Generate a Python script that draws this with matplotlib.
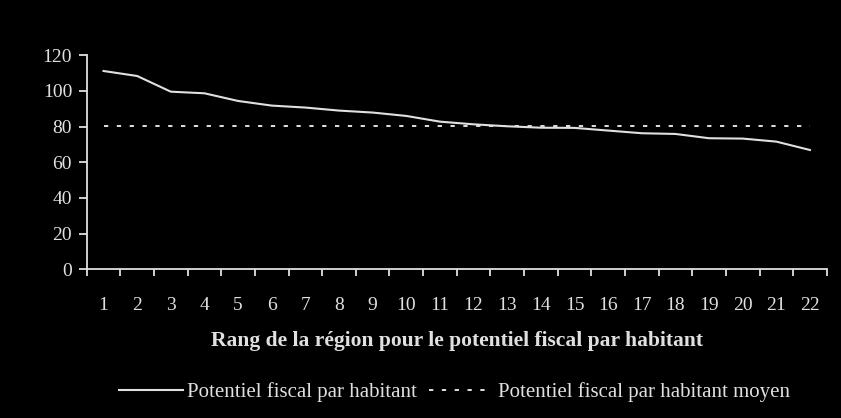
import matplotlib
matplotlib.use("Agg")
import matplotlib.pyplot as plt
from matplotlib.ticker import FixedLocator

# Regional tax potential per inhabitant, ranked
ranks = list(range(1, 23))
potentiel = [111.2, 108.4, 99.6, 98.7, 94.4, 91.8, 90.7, 89.0, 87.9, 86.0, 82.8,
             81.3, 80.2, 79.4, 79.3, 77.8, 76.3, 75.9, 73.5, 73.3, 71.6, 66.9]
moyenne = 80.2
y_ticks = [0, 20, 40, 60, 80, 100, 120]

label_serie = "Potentiel fiscal par habitant"
label_moyenne = "Potentiel fiscal par habitant moyen"
xlabel = "Rang de la région pour le potentiel fiscal par habitant"

fg = "#e0e0e0"
plt.rcParams["font.family"] = ["Liberation Serif", "DejaVu Serif"]

fig = plt.figure(figsize=(8.41, 4.18), dpi=100, facecolor="black")
ax = fig.add_axes([0.1031, 0.3557, 0.880, 0.512])
ax.set_facecolor("black")

ax.plot(ranks, potentiel, color=fg, lw=1.5, solid_joinstyle="round",
        label=label_serie)
ax.plot([ranks[0], ranks[-1]], [moyenne, moyenne], color=fg, lw=1.4,
        linestyle=(0, (2.2, 4.4)), label=label_moyenne)

ax.set_xlim(0.5, 22.5)
ax.set_ylim(0, 120)
ax.set_yticks(y_ticks)
ax.set_xticks(ranks)
ax.xaxis.set_minor_locator(FixedLocator([r - 0.5 for r in ranks] + [22.5]))

for s in ("top", "right"):
    ax.spines[s].set_visible(False)
for s in ("left", "bottom"):
    ax.spines[s].set_color(fg)
    ax.spines[s].set_linewidth(1.3)

ax.tick_params(axis="y", which="major", direction="out", length=5.5, width=1.3,
               color=fg, labelcolor=fg, labelsize=14, pad=5)
ax.tick_params(axis="x", which="major", length=0, labelcolor=fg,
               labelsize=14, pad=20)
ax.tick_params(axis="x", which="minor", direction="out", length=5, width=1.3,
               color=fg)

ax.set_xlabel(xlabel, color=fg, fontsize=15.5, fontweight="bold", labelpad=12)

leg = fig.legend(loc="center", bbox_to_anchor=(0.54, 0.062), ncol=2,
                 frameon=False, fontsize=15, labelcolor=fg,
                 handlelength=3.1, handletextpad=0.2, columnspacing=0.55)

fig.savefig("out.png", dpi=100, facecolor="black")
